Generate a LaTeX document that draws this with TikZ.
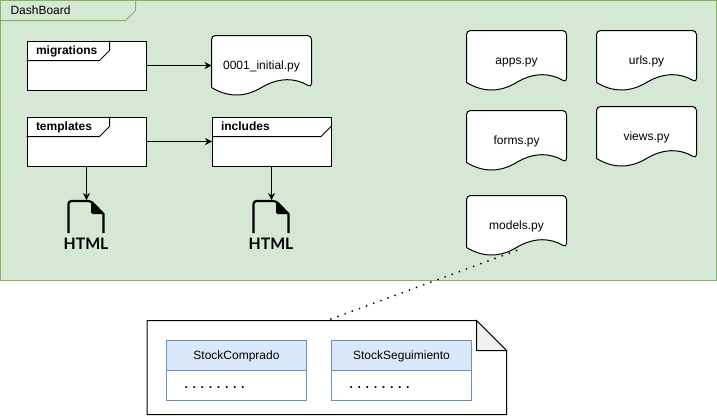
\documentclass[tikz,border=0pt]{standalone}
\usepackage{fontspec}
\setmainfont{Liberation Sans}
\newfontfamily\iconfont{Lato}
\usetikzlibrary{arrows.meta}
\definecolor{framefill}{HTML}{D5E8D4}
\definecolor{frameline}{HTML}{82B366}
\definecolor{classfill}{HTML}{DAE8FC}
\definecolor{classline}{HTML}{6C8EBF}
\definecolor{foldfill}{HTML}{F1F1F1}
\tikzset{
  txt/.style={font=\fontsize{12}{14}\selectfont, inner sep=0, text height=8.5pt, text depth=0pt},
  pkgbox/.style={draw=black, fill=white, minimum width=119pt, minimum height=49pt, inner sep=0, outer sep=0},
  pkglabel/.style={txt, font=\fontsize{12}{14}\selectfont\bfseries, anchor=west},
  hidden/.style={inner sep=0, outer sep=0},
  classhead/.style={draw=classline, fill=classfill, txt, minimum width=140pt, minimum height=30pt, outer sep=0},
  classbody/.style={draw=classline, fill=white, minimum width=140pt, minimum height=30pt, inner sep=0, outer sep=0},
  link/.style={-{Stealth[length=7pt, width=7pt]}},
}
% #1 name, #2 top left corner, #3 text
\newcommand{\pyfile}[3]{
\draw[fill=white, shift={(#2)}] {[rounded corners=4pt] (0,52) -- (0,0) -- (100,0) -- (100,52)}
  .. controls (83.3,42) and (66.7,42) .. (50,52)
  .. controls (33.3,62) and (16.7,62) .. (0,52) -- cycle;
\node[txt, hidden, minimum width=100pt, minimum height=60pt, shift={(#2)}] (#1) at (50,30) {#3};
}
% #1 name, #2 centre
\newcommand{\htmlicon}[2]{
\begin{scope}[shift={(#2)}]
\draw[line width=2.2pt, line join=round] (-18,16) -- (-18,-12) [rounded corners=3pt] -- (-18,-16) -- (4.5,-16) [sharp corners] -- (17,-3) -- (17,16);
\fill (4.5,-16) -- (17,-3) -- (10,-3) [rounded corners=2pt] -- (4.5,-3) -- cycle;
\node[hidden, minimum width=36pt, minimum height=34pt] (#1) at (0,0) {};
\node[hidden, font=\fontsize{15.8}{18}\selectfont\iconfont\bfseries] (#1text) at (-0.5,26.5) {HTML};
\end{scope}
}
\begin{document}
\begin{tikzpicture}[x=1pt, y=-1pt, line width=1pt]
\useasboundingbox (0,0) rectangle (717,415);
% outer frame
\draw[draw=frameline, fill=framefill] (0.5,0.5) rectangle (716.5,280.5);
\draw[draw=frameline] (0.5,20.5) -- (125.5,20.5) -- (135.5,10.5) -- (135.5,0.5);
\node[txt, anchor=west] (dashboard) at (10,10.5) {DashBoard};
% folders
\node[pkgbox] (migrations) at (86.5,65.5) {};
\draw (26.5,60.5) -- (99.5,60.5) -- (109.5,50.5) -- (109.5,40.5);
\node[pkglabel] (migrationslabel) at (35.5,50.5) {migrations};
\node[pkgbox] (templates) at (86.5,141.5) {};
\draw (26.5,136.5) -- (99.5,136.5) -- (109.5,126.5) -- (109.5,116.5);
\node[pkglabel] (templateslabel) at (35.5,126.5) {templates};
\node[pkgbox] (includes) at (271.5,141.5) {};
\draw (212,136.5) -- (321,136.5) -- (331,126.5);
\node[pkglabel] (includeslabel) at (220.5,126.5) {includes};
% python files
\pyfile{initial}{211.5,35.5}{0001\_initial.py}
\pyfile{apps}{466.5,30.5}{apps.py}
\pyfile{urls}{596.5,30.5}{urls.py}
\pyfile{forms}{466.5,110.5}{forms.py}
\pyfile{views}{596.5,106.5}{views.py}
\pyfile{models}{466.5,195.5}{models.py}
% html icons
\htmlicon{htmlA}{86.5,217}
\htmlicon{htmlB}{271.5,217}
\draw[link] (migrations) -- (initial);
\draw[link] (templates) -- (includes);
\draw[link] (templates) -- (htmlA);
\draw[link] (includes) -- (htmlB);
% note with the classes
\draw[fill=white] (147,320.5) -- (476.5,320.5) -- (506.5,350.5) -- (506.5,414.5) -- (147,414.5) -- cycle;
\draw[fill=foldfill] (476.5,320.5) -- (476.5,350.5) -- (506.5,350.5) -- cycle;
\node[hidden, minimum width=360pt, minimum height=94pt] (note) at (327,367.5) {};
\draw[line width=2pt, line cap=round, dash pattern=on 0.01pt off 7.6pt] ([yshift=5pt]models.south) -- (note.north);
\node[classhead] (comprado) at (236.5,355.5) {StockComprado};
\node[classbody] (compradobody) at (236.5,385.5) {};
\node[txt, anchor=west, font=\fontsize{12.5}{14}\selectfont\bfseries] (compradodots) at (184,384.5) {. . . . . . . .};
\node[classhead] (seguimiento) at (401.5,355.5) {StockSeguimiento};
\node[classbody] (seguimientobody) at (401.5,385.5) {};
\node[txt, anchor=west, font=\fontsize{12.5}{14}\selectfont\bfseries] (seguimientodots) at (349,384.5) {. . . . . . . .};
\end{tikzpicture}
\end{document}
